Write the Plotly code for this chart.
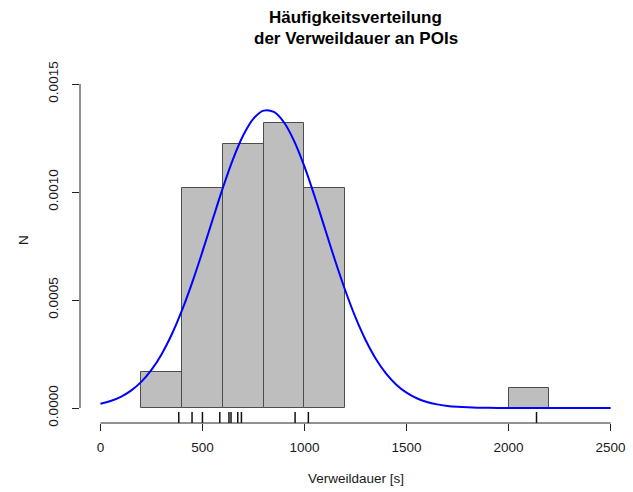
import plotly.graph_objects as go

# ---- data ----
bin_starts = [200, 400, 600, 800, 1000, 2000]
bin_width = 200
bar_density = [0.000167, 0.00102, 0.00122, 0.00132, 0.00102, 0.0000945]

curve_x = [0, 50, 100, 150, 200, 250, 300, 350, 400, 450, 500, 550, 600, 650,
           700, 750, 800, 850, 900, 950, 1000, 1050, 1100, 1150, 1200, 1250,
           1300, 1350, 1400, 1450, 1500, 1550, 1600, 1650, 1700, 1750, 1800,
           1850, 1900, 1950, 2000, 2100, 2200, 2300, 2400, 2500]
curve_y = [0.0000194, 0.0000321, 0.0000515, 0.0000802, 0.0001208, 0.0001763,
           0.0002494, 0.0003414, 0.0004528, 0.0005817, 0.0007240, 0.0008727,
           0.0010190, 0.0011525, 0.0012625, 0.0013396, 0.0013769, 0.0013708,
           0.0013219, 0.0012346, 0.0011171, 0.0009789, 0.0008309, 0.0006831,
           0.0005440, 0.0004196, 0.0003137, 0.0002270, 0.0001591, 0.0001081,
           0.0000711, 0.0000452, 0.0000279, 0.0000167, 0.0000097, 0.0000054,
           0.0000029, 0.0000015, 0.0000008, 0.0000004, 0.0000002, 0.0, 0.0,
           0.0, 0.0, 0.0]

rug_x = [384, 449, 500, 585, 630, 640, 673, 691, 954, 1019, 2137]

x_ticks = [0, 500, 1000, 1500, 2000, 2500]
y_ticks = [0.0, 0.0005, 0.0010, 0.0015]
y_tick_labels = ["0.0000", "0.0005", "0.0010", "0.0015"]

title_lines = ["Häufigkeitsverteilung", "der Verweildauer an POIs"]
x_title = "Verweildauer [s]"
y_title = "N"

# ---- layout geometry ----
W, H = 633, 492
ml, mr, mt, mb = 80, 2, 60, 69
plot_h = H - mt - mb
zero_px = 408.0          # pixel row of density 0
px_per_unit = 216000.0   # pixels per density unit
y_lo = -((H - mb) - zero_px) / px_per_unit
y_hi = (zero_px - mt) / px_per_unit

FONT = "Liberation Sans, Arial, sans-serif"
TXT = "#1a1a1a"
TICK_SIZE = 13.5
TITLE_SIZE = 17

fig = go.Figure()

fig.add_trace(go.Bar(
    x=[s + bin_width / 2 for s in bin_starts],
    y=bar_density,
    width=[bin_width] * len(bin_starts),
    marker=dict(color="#BEBEBE", line=dict(color="#4d4d4d", width=1)),
    hoverinfo="skip",
))

fig.add_trace(go.Scatter(
    x=curve_x, y=curve_y, mode="lines",
    line=dict(color="#0000FF", width=2, shape="spline", smoothing=1.0),
    hoverinfo="skip",
))

shapes = []
# rug
for v in rug_x:
    shapes.append(dict(type="line", xref="x", yref="paper",
                       x0=v, x1=v, y0=0, y1=11 / plot_h,
                       line=dict(color="#111111", width=1.5)))
# x axis line (from first to last tick)
shapes.append(dict(type="line", xref="x", yref="paper",
                   x0=x_ticks[0], x1=x_ticks[-1], y0=0, y1=0,
                   line=dict(color="#222222", width=1)))
# y axis line
shapes.append(dict(type="line", xref="paper", yref="y",
                   x0=0, x1=0, y0=y_ticks[0], y1=y_ticks[-1],
                   line=dict(color="#222222", width=1)))

annotations = [
    dict(text="<b>%s</b>" % title_lines[0], xref="paper", yref="paper",
         x=0.5, y=(H - mb - 17) / plot_h, showarrow=False,
         xanchor="center", yanchor="middle",
         font=dict(family=FONT, size=TITLE_SIZE, color="#000")),
    dict(text="<b>%s</b>" % title_lines[1], xref="paper", yref="paper",
         x=0.5, y=(H - mb - 38) / plot_h, showarrow=False,
         xanchor="center", yanchor="middle",
         font=dict(family=FONT, size=TITLE_SIZE, color="#000")),
    dict(text=x_title, xref="paper", yref="paper",
         x=0.5, y=(H - mb - 478) / plot_h, showarrow=False,
         xanchor="center", yanchor="middle",
         font=dict(family=FONT, size=TICK_SIZE, color=TXT)),
    dict(text=y_title, xref="paper", yref="paper",
         x=(23 - ml) / (W - ml - mr), y=(H - mb - 240) / plot_h,
         showarrow=False, textangle=-90,
         xanchor="center", yanchor="middle",
         font=dict(family=FONT, size=TICK_SIZE, color=TXT)),
]

fig.update_layout(
    width=W, height=H,
    margin=dict(l=ml, r=mr, t=mt, b=mb, pad=0),
    paper_bgcolor="white", plot_bgcolor="white",
    showlegend=False, bargap=0,
    font=dict(family=FONT, size=TICK_SIZE, color=TXT),
    shapes=shapes, annotations=annotations,
    xaxis=dict(range=[-100, 2600], tickvals=x_ticks,
               ticktext=[str(t) for t in x_ticks],
               ticks="outside", ticklen=7, tickcolor="#222222",
               showline=False, showgrid=False, zeroline=False,
               tickfont=dict(family=FONT, size=TICK_SIZE, color=TXT),
               ticklabelstandoff=5),
    yaxis=dict(range=[y_lo, y_hi], tickvals=y_ticks, ticktext=y_tick_labels,
               ticks="outside", ticklen=7, tickcolor="#222222",
               tickangle=-90,
               showline=False, showgrid=False, zeroline=False,
               tickfont=dict(family=FONT, size=TICK_SIZE, color=TXT),
               ticklabelstandoff=9),
)

fig.write_html("out.html")
